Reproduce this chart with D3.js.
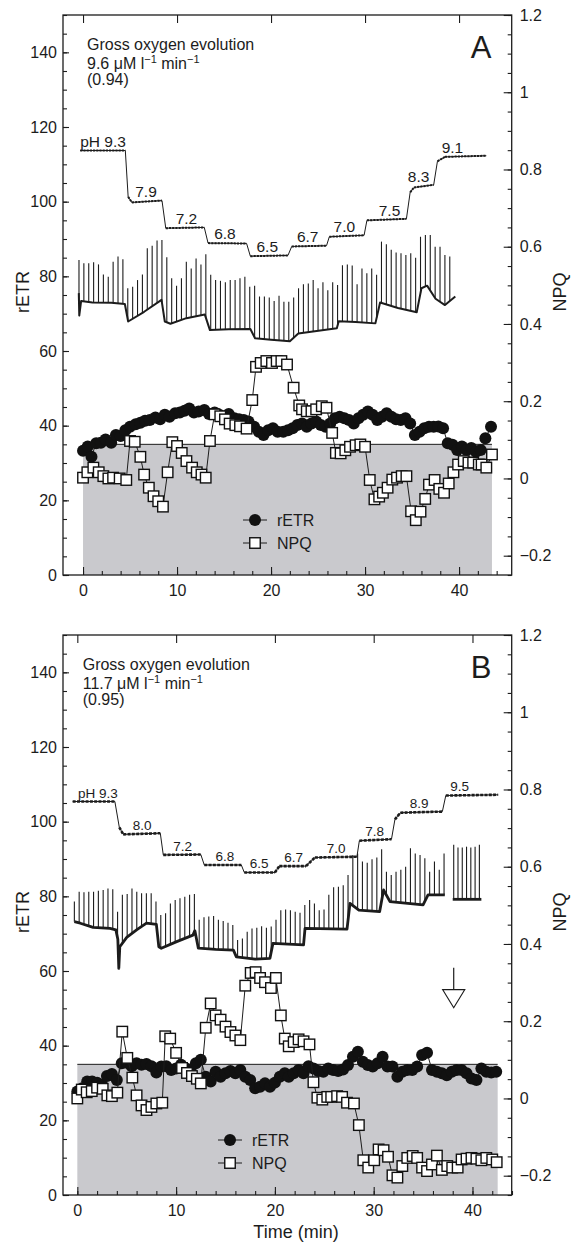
<!DOCTYPE html>
<html>
<head>
<meta charset="utf-8">
<script src="https://cdn.jsdelivr.net/npm/d3@7"></script>
<style>
  body { margin: 0; background: #fff; }
  svg { display: block; font-family: "Liberation Sans", Arial, Helvetica, sans-serif; }
</style>
</head>
<body>
<svg id="chart" width="571" height="1244"></svg>
<script>
// ---------- data, panel A ----------
const phTraceA = [[-0.3,113.7],[4.5,113.7],[4.8,101.3],[5.2,99.8],[8.4,100.3],[8.8,92.9],[12.9,93.1],[13.3,88.9],
  [17.4,88.8],[17.8,85.4],[21.8,85.6],[22.2,88.0],[25.9,88.2],[26.2,90.6],[29.9,91.0],[30.2,95.0],[34.4,95.4],
  [34.8,102.5],[35.2,103.8],[37.3,104.5],[37.7,110.8],[38.5,112.0],[42.9,112.3]]
const phLabelsA = ['pH 9.3','7.9','7.2','6.8','6.5','6.7','7.0','7.5','8.3','9.1']
const phLabelTimesA = [-0.3, 6.7, 11.0, 15.1, 19.6, 23.9, 27.8, 32.6, 35.7, 39.3]
const phLabelLevelsA = [113.7, 100.3, 93.0, 88.8, 85.5, 88.1, 90.8, 95.2, 104.3, 112.0]

// baseline fluorescence (F) and saturation pulse tops, left axis units
const fBaseA = [[-0.45,75.5],[-0.4,69.5],[-0.2,73.4],[1,73.0],[3,72.9],[4.45,72.6],[4.8,67.9],[6.5,70.5],[8.35,73.7],
  [8.7,67.9],[9.3,67.3],[11,68.8],[12.95,69.8],[13.5,65.6],[15.5,65.8],[17.8,65.9],[18.3,63.4],[20,63.0],[22.0,62.6],
  [22.9,64.7],[27.0,66.1],[27.2,68.0],[29,67.8],[31.1,67.4],[31.6,73.0],[33.5,71.5],[35.5,70.4],[36.0,76.8],
  [36.6,77.5],[37.5,74.0],[38.5,72.3],[39.6,74.6]]
const fSpikeA = [84.4,83.5,83.5,83.8,83.2,80.5,79.9,83.9,85.3,84.6,76.8,77.2,79.0,80.5,87.5,88.2,89.6,89.7,85.1,79.5,
  77.5,79.5,83.9,82.1,84.8,83.2,85.9,80.4,79.0,78.8,78.4,79.0,79.0,79.5,79.9,77.2,77.5,74.6,74.6,74.3,73.4,74.8,73.2,73.2,74.3,
  76.8,77.9,78.1,79.0,76.8,78.4,76.3,78.4,77.7,83.0,83.2,82.9,77.9,82.1,80.8,82.1,80.4,89.3,88.6,87.1,86.4,86.2,85.7,86.2,85.0,
  90.6,91.1,91.1,87.9,87.9,85.7,85.3]
const pulseStartA = -0.43, pulseStepA = 0.519

const etrA = [[0,33.3],[0.5,34.4],[0.9,31.7],[1.4,35.3],[1.9,35.4],[2.4,36.3],[3.0,35.4],[3.5,37.5],[4.0,37.2],[4.5,38.8],
  [5.0,39.7],[5.6,40.4],[6.1,40.8],[6.6,41.3],[7.1,41.5],[7.7,42.2],[8.2,41.7],[8.7,42.9],[9.2,42.4],[9.8,43.3],[10.3,43.5],
  [10.8,44.0],[11.3,44.6],[11.8,43.5],[12.3,43.8],[12.9,44.2],[13.4,43.1],[14.0,43.5],[14.5,42.9],[15.0,42.4],[15.5,43.1],
  [16.1,42.0],[16.6,41.7],[17.1,41.5],[17.6,41.1],[18.2,39.7],[18.7,38.4],[19.2,37.5],[19.7,38.8],[20.2,39.3],[20.7,38.4],
  [21.3,38.4],[21.8,38.8],[22.3,39.3],[22.8,40.2],[23.3,40.6],[23.8,39.7],[24.3,40.6],[24.8,41.1],[25.3,40.2],[25.8,39.7],
  [26.3,40.6],[26.8,42.0],[27.3,42.4],[27.8,42.0],[28.3,41.5],[28.8,40.6],[29.3,42.0],[29.8,42.9],[30.3,43.8],[30.8,42.9],
  [31.3,41.5],[31.8,42.4],[32.3,43.3],[32.8,42.4],[33.3,41.7],[33.8,41.5],[34.3,42.0],[34.8,40.6],[35.3,37.5],[35.8,38.4],
  [36.3,39.3],[36.8,39.7],[37.3,39.7],[37.8,39.8],[38.3,39.3],[38.8,35.3],[39.3,34.9],[39.8,33.5],[40.3,34.4],[40.8,33.5],
  [41.3,34.0],[41.8,33.0],[42.3,33.5],[42.8,36.6],[43.4,39.7]]
const npqA = [[0,0.002],[0.46,0.016],[1.1,0.028],[1.67,0.016],[2.16,0.006],[2.7,0.0],[3.2,0.002],[3.9,0.0],[4.6,-0.004],
  [5.0,0.097],[5.5,0.095],[6.1,0.056],[6.5,0.010],[7.0,-0.024],[7.5,-0.046],[8.0,-0.059],[8.5,-0.073],[9.0,0.016],[9.5,0.094],
  [10.0,0.084],[10.5,0.066],[11.0,0.045],[11.6,0.028],[12.1,0.016],[12.6,0.010],[13.05,0.002],[13.5,0.097],[14.0,0.166],
  [14.6,0.161],[15.1,0.153],[15.6,0.142],[16.2,0.138],[16.7,0.135],[17.4,0.129],[18.0,0.203],[18.4,0.289],[18.9,0.299],
  [19.5,0.304],[20.1,0.299],[20.6,0.304],[21.1,0.304],[21.7,0.295],[22.4,0.235],[23.0,0.189],[23.3,0.179],[23.8,0.174],
  [24.3,0.174],[24.8,0.179],[25.4,0.187],[25.9,0.183],[26.5,0.118],[26.9,0.066],[27.4,0.065],[27.9,0.073],[28.4,0.082],
  [29.0,0.086],[29.5,0.088],[30.0,0.082],[30.5,-0.004],[31.0,-0.054],[31.5,-0.047],[31.9,-0.037],[32.4,-0.024],[32.9,-0.003],
  [33.4,0.002],[33.9,0.006],[34.4,0.006],[34.9,-0.085],[35.4,-0.108],[35.9,-0.086],[36.4,-0.053],[36.8,-0.016],[37.4,-0.004],
  [37.9,-0.027],[38.4,-0.037],[38.9,-0.013],[39.4,0.016],[39.9,0.036],[40.5,0.045],[41.0,0.041],[41.5,0.041],[42.1,0.036],
  [42.4,0.036],[42.9,0.028],[43.5,0.062]]
const shadeA = [0, 43.5]
const gasLinesA = ['Gross oxygen evolution', '9.6', '(0.94)']

// ---------- data, panel B ----------
const phTraceB = [[-0.47,105.4],[3.8,105.4],[4.25,98.5],[4.65,96.6],[8.4,96.9],[8.7,91.1],[12.5,91.2],[12.85,88.4],
  [16.6,88.4],[16.9,86.4],[20.0,86.4],[20.45,88.1],[23.15,88.1],[24.05,90.4],[28.3,90.6],[28.55,94.9],[31.8,95.3],
  [32.15,100.6],[32.7,102.4],[36.95,102.7],[37.3,107.0],[42.6,107.2]]
const phLabelsB = ['pH 9.3','8.0','7.2','6.8','6.5','6.7','7.0','7.8','8.9','9.5']
const phLabelTimesB = [0.07, 6.55, 10.65, 14.95, 18.4, 21.9, 26.2, 30.1, 34.6, 38.7]
const phLabelLevelsB = [105.4, 96.7, 91.1, 88.4, 86.4, 88.1, 90.5, 95.1, 102.6, 107.1]

const fBaseB = [[-0.3,73.2],[0.3,72.8],[1.6,71.7],[3.3,71.4],[3.9,71.0],[4.1,68.5],[4.2,60.7],[4.3,66.5],[5.0,69.0],
  [6.0,71.0],[7.0,72.8],[8.0,72.5],[8.25,66.5],[8.5,66.1],[10,67.8],[11.7,69.6],[11.9,70.8],[12.25,66.1],[14,65.8],
  [15.8,65.6],[16.1,63.8],[18,63.2],[19.5,63.4],[19.8,67.4],[22.9,67.0],[23.05,71.4],[27.3,71.2],[27.6,78.1],[28.5,76.3],
  [30.6,75.9],[31.0,81.7],[31.65,78.6],[35.0,77.7],[35.5,80.4],[37.2,80.4]]
const fBaseB2 = [[38.0,79.2],[40.9,79.2]]
const fSpikeB = [78.6,81.2,81.1,81.2,81.2,81.5,81.7,82.1,81.9,75.9,80.4,80.6,82.1,81.2,80.8,80.8,80.8,78.6,75.0,75.5,
  78.1,79.0,79.5,79.9,80.4,80.6,73.7,74.4,74.6,74.7,73.7,73.4,72.9,72.3,68.3,68.7,70.5,71.4,71.6,72.0,71.6,71.9,73.7,76.3,
  76.5,76.3,75.9,75.6,77.7,79.0,78.1,76.3,76.5,80.4,82.4,82.6,83.0,85.7,91.1,91.5,89.3,89.0,89.9,90.4,92.6,86.6,85.7,86.6,
  87.1,87.9,92.9,91.5,91.1,90.2,86.6,89.3,87.1,91.5]
const pulseStartB = -0.3, pulseStepB = 0.486
const fSpikeB2 = [93.8,93.1,93.1,93.3,93.1,93.3,93.8]
const pulseStartB2 = 38.1, pulseStepB2 = 0.433

const etrB = [[0,27.7],[0.5,28.6],[1.0,30.4],[1.5,30.4],[2.0,30.1],[2.5,29.5],[3.0,31.9],[3.5,32.4],[4.0,30.8],[4.5,35.3],
  [5.0,35.4],[5.5,34.5],[6.0,35.3],[6.5,34.9],[7.0,35.1],[7.5,34.5],[8.0,32.8],[8.5,34.4],[9.0,34.5],[9.5,33.5],[10.0,33.9],
  [10.5,34.9],[11.0,33.9],[11.5,33.0],[12.0,35.3],[12.5,36.2],[13.0,31.7],[13.5,30.4],[14.0,33.0],[14.5,31.7],[15.0,32.6],
  [15.5,33.2],[16.0,32.6],[16.5,33.5],[17.0,31.7],[17.5,30.8],[18.0,28.6],[18.5,29.0],[19.0,29.9],[19.5,29.0],[20.0,30.1],
  [20.5,31.7],[21.0,32.6],[21.4,31.7],[21.9,32.6],[22.4,33.5],[22.9,32.6],[23.4,34.5],[23.9,33.9],[24.4,33.2],[24.9,33.0],
  [25.4,33.9],[25.9,33.5],[26.4,33.2],[26.9,33.6],[27.4,34.8],[27.9,37.0],[28.4,38.4],[28.9,35.7],[29.4,34.8],[29.9,34.4],
  [30.4,35.3],[30.9,37.0],[31.4,34.4],[31.9,34.4],[32.4,31.7],[32.9,33.0],[33.4,33.5],[33.9,33.5],[34.4,34.4],[34.9,37.5],
  [35.4,38.1],[35.9,33.5],[36.4,33.0],[36.9,32.6],[37.4,32.1],[37.9,33.0],[38.4,33.5],[38.9,33.5],[39.4,32.6],[39.9,31.2],
  [40.4,30.8],[40.9,33.9],[41.4,33.0],[41.9,32.8],[42.4,33.0]]
const npqB = [[0,0.0],[0.45,0.023],[0.95,0.016],[1.46,0.019],[2.0,0.028],[2.57,0.025],[3.04,0.008],[3.5,0.006],[4.05,0.015],
  [4.55,0.173],[5.06,0.105],[5.57,0.054],[6.0,0.008],[6.5,-0.018],[7.0,-0.030],[7.5,-0.022],[8.0,-0.013],[8.6,-0.011],
  [8.9,0.161],[9.4,0.155],[10.0,0.118],[10.6,0.079],[11.1,0.066],[11.6,0.058],[12.1,0.051],[12.5,0.039],[13.0,0.183],
  [13.5,0.246],[14.0,0.215],[14.5,0.204],[15.0,0.186],[15.5,0.172],[16.0,0.163],[16.5,0.151],[17.0,0.292],[17.55,0.325],
  [18.05,0.327],[18.5,0.312],[19.0,0.301],[19.6,0.286],[20.1,0.312],[20.6,0.215],[21.0,0.155],[21.4,0.135],[21.9,0.146],
  [22.4,0.153],[22.9,0.148],[23.5,0.140],[23.9,0.042],[24.3,0.002],[24.8,-0.003],[25.3,0.004],[25.7,0.004],[26.3,0.006],
  [26.8,0.004],[27.3,-0.011],[28.0,-0.013],[28.5,-0.069],[28.95,-0.160],[29.45,-0.179],[30.05,-0.160],[30.5,-0.132],
  [31.0,-0.134],[31.45,-0.151],[31.9,-0.199],[32.4,-0.205],[32.9,-0.175],[33.4,-0.154],[33.95,-0.149],[34.4,-0.154],
  [34.9,-0.179],[35.4,-0.188],[35.9,-0.171],[36.4,-0.148],[36.9,-0.185],[37.45,-0.175],[37.95,-0.179],[38.5,-0.179],
  [38.9,-0.158],[39.4,-0.156],[39.9,-0.154],[40.4,-0.156],[40.9,-0.160],[41.4,-0.154],[42.0,-0.158],[42.45,-0.165]]
const shadeB = [0, 42.55]
const gasLinesB = ['Gross oxygen evolution', '11.7', '(0.95)']
const arrowTimeB = 38.1, arrowNpqB = 0.235

// shared
const shadeLevel = 35
const etrTicks = [0, 20, 40, 60, 80, 100, 120, 140]
const npqTicks = [-0.2, 0, 0.2, 0.4, 0.6, 0.8, 1, 1.2]
const timeTicks = [0, 10, 20, 30, 40]

const svg = d3.select('#chart')
const ink = '#1c1c1c'

function lerpTrace(trace, t) {
  for (let i = 0; i < trace.length - 1; i++) {
    const a = trace[i], b = trace[i + 1]
    if (t >= a[0] && t <= b[0]) {
      if (b[0] === a[0]) return a[1]
      return a[1] + (b[1] - a[1]) * (t - a[0]) / (b[0] - a[0])
    }
  }
  return t < trace[0][0] ? trace[0][1] : trace[trace.length - 1][1]
}

function drawPanel(cfg, d) {
  const g = svg.append('g')
  const x = d3.scaleLinear().domain(cfg.xDomain).range([cfg.left, cfg.right])
  const y = d3.scaleLinear().domain([0, 150]).range([cfg.bottom, cfg.top])
  const y2 = d3.scaleLinear().domain([-0.25, 1.2]).range([cfg.bottom, cfg.top])

  // grey region below 35
  g.append('rect')
    .attr('x', x(d.shade[0])).attr('width', x(d.shade[1]) - x(d.shade[0]))
    .attr('y', y(shadeLevel)).attr('height', y(0) - y(shadeLevel))
    .attr('fill', '#c9c9cd')
  g.append('line')
    .attr('x1', x(d.shade[0])).attr('x2', x(d.shade[1]))
    .attr('y1', y(shadeLevel)).attr('y2', y(shadeLevel))
    .attr('stroke', ink).attr('stroke-width', 1)

  // axes
  const minorX = d3.range(0, 45, 2)
  const minorY = d3.range(0, 151, 5)
  const minorY2 = d3.range(-5, 25).map(i => +(i * 0.05).toFixed(2))

  const styleAxis = sel => {
    sel.select('.domain').remove()
    sel.selectAll('line').attr('stroke', ink).attr('stroke-width', 1.1)
    sel.selectAll('text').attr('fill', ink).attr('font-size', 16)
      .attr('font-family', '"Liberation Sans", Arial, sans-serif')
  }
  g.append('g').attr('transform', `translate(0,${cfg.bottom})`)
    .call(d3.axisBottom(x).tickValues(minorX).tickSize(-4).tickFormat('')).call(styleAxis)
  g.append('g').attr('transform', `translate(0,${cfg.bottom})`)
    .call(d3.axisBottom(x).tickValues(timeTicks).tickSize(-8).tickPadding(10).tickFormat(d3.format('d'))).call(styleAxis)
  g.append('g').attr('transform', `translate(0,${cfg.top})`)
    .call(d3.axisTop(x).tickValues(timeTicks).tickSize(-8).tickFormat('')).call(styleAxis)
  g.append('g').attr('transform', `translate(${cfg.left},0)`)
    .call(d3.axisLeft(y).tickValues(minorY).tickSize(-4).tickFormat('')).call(styleAxis)
  g.append('g').attr('transform', `translate(${cfg.left},0)`)
    .call(d3.axisLeft(y).tickValues(etrTicks).tickSize(-6).tickPadding(6).tickFormat(d3.format('d'))).call(styleAxis)
  g.append('g').attr('transform', `translate(${cfg.right},0)`)
    .call(d3.axisRight(y2).tickValues(minorY2).tickSize(-4).tickFormat('')).call(styleAxis)
  g.append('g').attr('transform', `translate(${cfg.right},0)`)
    .call(d3.axisRight(y2).tickValues(npqTicks).tickSize(-8).tickPadding(8)
      .tickFormat(v => String(+v.toFixed(1)).replace('-', '\u2212'))).call(styleAxis)

  // frame
  g.append('rect')
    .attr('x', cfg.left).attr('y', cfg.top)
    .attr('width', cfg.right - cfg.left).attr('height', cfg.bottom - cfg.top)
    .attr('fill', 'none').attr('stroke', ink).attr('stroke-width', 1.3)

  // pH trace
  const line = d3.line().x(p => x(p[0])).y(p => y(p[1]))
  g.append('path').attr('d', line(d.phTrace))
    .attr('fill', 'none').attr('stroke', ink).attr('stroke-width', 1)
  for (let i = 0; i < d.phTrace.length - 1; i++) {
    const a = d.phTrace[i], b = d.phTrace[i + 1]
    if (Math.abs((b[1] - a[1]) / (b[0] - a[0])) < 5) {
      g.append('path').attr('d', line([a, b]))
        .attr('fill', 'none').attr('stroke', ink)
        .attr('stroke-width', cfg.phDotWidth).attr('stroke-dasharray', cfg.phDash)
    }
  }
  g.selectAll('.phlab').data(d.phLabels).join('text')
    .attr('x', (s, i) => x(d.phLabelTimes[i]))
    .attr('y', (s, i) => y(d.phLabelLevels[i]) - 4)
    .attr('text-anchor', (s, i) => i === 0 ? 'start' : 'middle')
    .attr('font-size', cfg.phFont).attr('fill', ink)
    .text(s => s)

  // fluorescence trace with saturation pulses
  d.fPieces.forEach(piece => {
    g.append('path').attr('d', line(piece.base))
      .attr('fill', 'none').attr('stroke', ink)
      .attr('stroke-width', cfg.fWidth).attr('stroke-linejoin', 'round')
    g.append('g').selectAll('line').data(piece.tops).join('line')
      .attr('x1', (v, i) => x(piece.start + i * piece.step))
      .attr('x2', (v, i) => x(piece.start + i * piece.step))
      .attr('y1', (v, i) => y(lerpTrace(piece.base, piece.start + i * piece.step)))
      .attr('y2', v => y(v))
      .attr('stroke', ink).attr('stroke-width', 1.1)
  })

  // rETR
  g.append('path').attr('d', line(d.etr))
    .attr('fill', 'none').attr('stroke', ink).attr('stroke-width', 1)
  g.append('g').selectAll('circle').data(d.etr).join('circle')
    .attr('cx', p => x(p[0])).attr('cy', p => y(p[1])).attr('r', 6)
    .attr('fill', '#111')

  // NPQ
  const line2 = d3.line().x(p => x(p[0])).y(p => y2(p[1]))
  g.append('path').attr('d', line2(d.npq))
    .attr('fill', 'none').attr('stroke', ink).attr('stroke-width', 1)
  const sq = 10.5
  g.append('g').selectAll('rect').data(d.npq).join('rect')
    .attr('x', p => x(p[0]) - sq / 2).attr('y', p => y2(p[1]) - sq / 2)
    .attr('width', sq).attr('height', sq)
    .attr('fill', '#fff').attr('stroke', '#111').attr('stroke-width', 1.4)

  // legend
  const lg = g.append('g').attr('transform', `translate(${cfg.legendX},${cfg.legendY})`)
  ;[['rETR', 0], ['NPQ', 23]].forEach(([name, dy], k) => {
    lg.append('line').attr('x1', -12).attr('x2', 12).attr('y1', dy).attr('y2', dy)
      .attr('stroke', ink).attr('stroke-width', 1)
    if (k === 0) lg.append('circle').attr('cy', dy).attr('r', 6).attr('fill', '#111')
    else lg.append('rect').attr('x', -sq / 2).attr('y', dy - sq / 2).attr('width', sq).attr('height', sq)
      .attr('fill', '#fff').attr('stroke', '#111').attr('stroke-width', 1.4)
    lg.append('text').attr('x', 22).attr('y', dy + 5.5).attr('font-size', 16).attr('fill', ink).text(name)
  })

  // gas exchange note
  const note = g.append('g').attr('font-size', 16).attr('fill', ink)
  note.append('text').attr('x', cfg.noteX).attr('y', cfg.top + 35).text(d.gas[0])
  const t2 = note.append('text').attr('x', cfg.noteX).attr('y', cfg.top + 53.5)
  t2.append('tspan').text(d.gas[1] + ' \u03bcM l')
  t2.append('tspan').attr('dy', -6).attr('font-size', 11).text('\u22121')
  t2.append('tspan').attr('dy', 6).text(' min')
  t2.append('tspan').attr('dy', -6).attr('font-size', 11).text('\u22121')
  note.append('text').attr('x', cfg.noteX).attr('y', cfg.top + 70).text(d.gas[2])

  // panel letter
  g.append('text').attr('x', cfg.right - 41).attr('y', cfg.top + 43)
    .attr('font-size', 31).attr('fill', ink).text(cfg.letter)

  // axis titles
  const mid = (cfg.top + cfg.bottom) / 2 - 3
  g.append('text').attr('transform', `translate(29,${mid}) rotate(-90)`)
    .attr('text-anchor', 'middle').attr('font-size', 18).attr('fill', ink).text('rETR')
  g.append('text').attr('transform', `translate(566,${mid}) rotate(-90)`)
    .attr('text-anchor', 'middle').attr('font-size', 18).attr('fill', ink).text('NPQ')

  return { x, y, y2 }
}

const cfgA = { letter: 'A', left: 63, right: 511.7, top: 15, bottom: 575, xDomain: [-2.13, 45.6],
  phFont: 15.5, phDotWidth: 2, phDash: '2.2,1', fWidth: 2, legendX: 255, legendY: 520, noteX: 87 }
const cfgB = { letter: 'B', left: 63, right: 511.7, top: 635, bottom: 1195, xDomain: [-1.45, 43.97],
  phFont: 13.5, phDotWidth: 2.6, phDash: '3,1.3', fWidth: 2.8, legendX: 230, legendY: 1140, noteX: 82.7 }

drawPanel(cfgA, {
  shade: shadeA, phTrace: phTraceA, phLabels: phLabelsA, phLabelTimes: phLabelTimesA, phLabelLevels: phLabelLevelsA,
  fPieces: [{ base: fBaseA, tops: fSpikeA, start: pulseStartA, step: pulseStepA }],
  etr: etrA, npq: npqA, gas: gasLinesA
})
const sB = drawPanel(cfgB, {
  shade: shadeB, phTrace: phTraceB, phLabels: phLabelsB, phLabelTimes: phLabelTimesB, phLabelLevels: phLabelLevelsB,
  fPieces: [{ base: fBaseB, tops: fSpikeB, start: pulseStartB, step: pulseStepB },
            { base: fBaseB2, tops: fSpikeB2, start: pulseStartB2, step: pulseStepB2 }],
  etr: etrB, npq: npqB, gas: gasLinesB
})

// arrow in panel B
const ax = sB.x(arrowTimeB), ay = sB.y2(arrowNpqB)
svg.append('line').attr('x1', ax).attr('x2', ax).attr('y1', ay - 40).attr('y2', ay - 18)
  .attr('stroke', ink).attr('stroke-width', 1.2)
svg.append('path').attr('d', `M${ax - 11},${ay - 18}L${ax + 11},${ay - 18}L${ax},${ay}Z`)
  .attr('fill', '#fff').attr('stroke', ink).attr('stroke-width', 1.2)

// time axis title
svg.append('text').attr('x', 296).attr('y', 1238).attr('text-anchor', 'middle')
  .attr('font-size', 18).attr('fill', ink).text('Time (min)')
</script>
</body>
</html>
